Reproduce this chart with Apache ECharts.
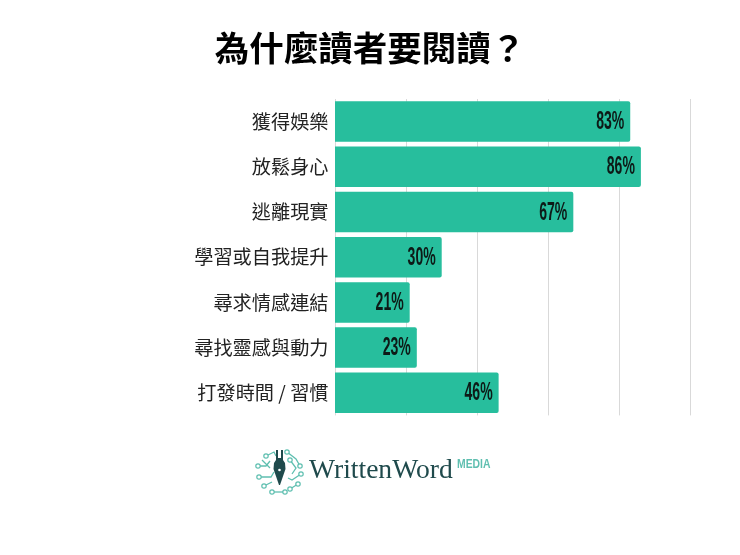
<!DOCTYPE html>
<html><head><meta charset="utf-8">
<script src="https://cdn.jsdelivr.net/npm/echarts@6/dist/echarts.min.js"></script>
<style>html,body{margin:0;padding:0;background:#fff}#c{width:740px;height:555px}</style>
</head><body><div id="c"></div>
<script>
const categories = ['獲得娛樂','放鬆身心','逃離現實','學習或自我提升','尋求情感連結','尋找靈感與動力','打發時間 / 習慣'];
const values = [83,86,67,30,21,23,46];
const titleText = '為什麼讀者要閱讀？';
const cjk = '"Noto Sans CJK TC"';
const teal = '#27BE9D', dark = '#1F4A4C', logoTeal = '#5FBFB0';
const circ = (x,y,r=2.2)=>({type:'circle',shape:{cx:x,cy:y,r},style:{fill:'#fff',stroke:logoTeal,lineWidth:1.2}});
const path = pts=>({type:'polyline',shape:{points:pts},style:{fill:'none',stroke:logoTeal,lineWidth:1.3}});
const chart = echarts.init(document.getElementById('c'),null,{renderer:'canvas'});
chart.setOption({
  animation:false,
  backgroundColor:'#fff',
  title:{text:titleText,left:'center',top:26,textStyle:{fontFamily:cjk,fontSize:34.5,fontWeight:'bold',color:'#000'}},
  grid:{left:335,top:99,width:355.7,height:316.4},
  xAxis:{type:'value',min:0,max:100,interval:20,axisLabel:{show:false},axisTick:{show:false},axisLine:{show:false},
    splitLine:{show:true,lineStyle:{color:'#d9d9d9',width:1}}},
  yAxis:{type:'category',inverse:true,data:categories,axisTick:{show:false},axisLine:{show:false},
    axisLabel:{fontFamily:cjk,fontSize:19.2,color:'#222',margin:6.5}},
  series:[
    {type:'bar',data:values,barWidth:40.5,itemStyle:{color:teal,borderRadius:[0,2,2,0]}},
    {type:'custom',data:values.map((v,i)=>[v,i]),encode:{x:0,y:1},z:5,silent:true,
      renderItem(params,api){
        const p=api.coord([api.value(0),api.value(1)]);
        return {type:'text',x:p[0]-6,y:p[1]+0.5,scaleX:0.54,scaleY:1,
          style:{text:api.value(0)+'%',fontFamily:'"Liberation Sans"',fontWeight:'bold',fontSize:26,fill:'#0d1a17',align:'right',verticalAlign:'middle'}};
      }}
  ],
  graphic:[
    path([[266,456],[274,452],[276,456]]),path([[258,466],[266,466],[270,461]]),path([[259,477],[271,477],[274,472]]),path([[264,486],[272,482]]),path([[272,492],[285,492]]),
    path([[287,452],[296,459],[300,466]]),path([[290,460],[296,468],[292,474]]),path([[301,474],[292,480],[288,478]]),path([[298,484],[290,489]]),path([[262,460],[270,468]]),
    circ(266,456),circ(258,466),circ(259,477),circ(264,486),circ(272,492),circ(285,492),circ(287,452),circ(300,466),circ(290,460),circ(301,474),circ(298,484),circ(290,489),
    {type:'polygon',shape:{points:[[276,450],[278,450],[278,458],[281,458],[281,450],[283,450],[283,460],[285,463],[285.5,469],[280,485],[279,485],[273.5,469],[274,463],[276,460]]},style:{fill:dark}},
    {type:'circle',shape:{cx:279.5,cy:470,r:1.3},style:{fill:'#fff'}},
    {type:'text',style:{x:309,y:471,text:'WrittenWord',fontFamily:'"Liberation Serif"',fontSize:27.6,fill:dark,verticalAlign:'middle',textAlign:'left'}},
    {type:'text',x:457,y:464,scaleX:0.8,style:{x:0,y:0,text:'MEDIA',fontFamily:'"Liberation Sans"',fontSize:13,fontWeight:'bold',fill:logoTeal,verticalAlign:'middle',textAlign:'left'}}
  ]
});
</script></body></html>
